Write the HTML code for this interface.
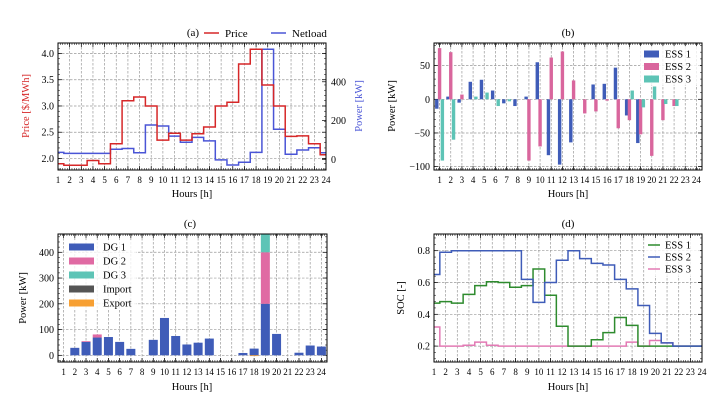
<!DOCTYPE html>
<html><head><meta charset="utf-8"><style>
html,body{margin:0;padding:0;background:#fff}
svg{display:block;font-family:"Liberation Serif","DejaVu Serif",serif}
</style></head><body>
<svg id="fig" width="724" height="400" viewBox="0 0 724 400" xmlns="http://www.w3.org/2000/svg">
<rect width="724" height="400" fill="#fff"/>
<!-- Panel a header -->
<text x="193" y="36" font-size="11" text-anchor="middle">(a)</text>
<line x1="204" y1="33" x2="219" y2="33" stroke="#d62728" stroke-width="1.5"/>
<text x="225" y="37" font-size="11">Price</text>
<line x1="271" y1="33" x2="286" y2="33" stroke="#4a55d6" stroke-width="1.5"/>
<text x="292" y="37" font-size="11">Netload</text>
<text x="568" y="36" font-size="11" text-anchor="middle">(b)</text>
<text x="190" y="227" font-size="11" text-anchor="middle">(c)</text>
<text x="568" y="227" font-size="11" text-anchor="middle">(d)</text>
<!-- axis titles -->
<text x="192" y="197" font-size="10.5" text-anchor="middle">Hours [h]</text>
<text x="568" y="197" font-size="10.5" text-anchor="middle">Hours [h]</text>
<text x="192" y="390" font-size="10.5" text-anchor="middle">Hours [h]</text>
<text x="568" y="390" font-size="10.5" text-anchor="middle">Hours [h]</text>
<text transform="translate(29,106) rotate(-90)" font-size="10.5" text-anchor="middle" fill="#d62728">Price [$/MWh]</text>
<text transform="translate(362,106) rotate(-90)" font-size="10.5" text-anchor="middle" fill="#4a55d6">Power [kW]</text>
<text transform="translate(395,106) rotate(-90)" font-size="10.5" text-anchor="middle">Power [kW]</text>
<text transform="translate(26,298) rotate(-90)" font-size="10.5" text-anchor="middle">Power [kW]</text>
<text transform="translate(404,298) rotate(-90)" font-size="10.5" text-anchor="middle">SOC [-]</text>
<g id="layer"></g>
</svg>
<script>
const hours = [1,2,3,4,5,6,7,8,9,10,11,12,13,14,15,16,17,18,19,20,21,22,23,24];
const price = [1.90,1.87,1.87,1.96,1.90,2.28,3.10,3.17,3.00,2.35,2.48,2.35,2.47,2.60,3.00,3.07,3.80,4.08,3.40,3.00,2.42,2.43,2.28,2.07];
const netload = [36,31,31,31,31,52,56,34,177,172,120,88,113,95,-3,-29,-15,36,568,155,26,48,60,34];
const ess1Power = [-14,4,-5,26,29,13,-6,-10,4,55,-83,-97,-64,0,22,23,47,-24,-65,0,0,0,0,0];
const ess2Power = [76,70,7,0,0,0,0,0,-91,-70,62,71,28,-21,-18,-2,-43,-31,-52,-84,-31,-10,0,0];
const ess3Power = [-91,-60,0,4,10,-10,-3,0,0,0,0,0,0,0,0,0,0,13,-12,19,-7,-10,0,0];
const dg1 = [0,29,52,69,71,52,25,0,60,145,75,42,49,65,0,0,9,26,200,83,0,10,38,34];
const dg2 = [0,0,3,12,0,0,0,0,0,0,0,0,0,0,0,0,0,0,200,0,0,0,0,0];
const dg3 = [0,0,0,0,0,0,0,0,0,0,0,0,0,0,0,0,0,0,75,0,0,0,0,0];
const gridImport = [0,0,0,0,0,0,0,0,0,0,0,0,0,0,0,0,0,0,0,0,0,0,0,0];
const gridExport = [0,0,0,0,0,0,0,0,0,0,0,0,0,0,0,0,0,-3,0,0,0,0,0,0];
const soc1 = [0.47,0.48,0.47,0.525,0.58,0.605,0.6,0.57,0.58,0.685,0.52,0.325,0.2,0.2,0.24,0.285,0.38,0.33,0.2,0.2,0.2,0.2,0.2,0.2];
const soc2 = [0.65,0.79,0.8,0.8,0.8,0.8,0.8,0.8,0.62,0.475,0.6,0.74,0.8,0.75,0.72,0.71,0.62,0.56,0.455,0.28,0.22,0.2,0.2,0.2];
const soc3 = [0.32,0.2,0.2,0.205,0.225,0.205,0.2,0.2,0.2,0.2,0.2,0.2,0.2,0.2,0.2,0.2,0.2,0.225,0.2,0.235,0.22,0.2,0.2,0.2];
const priceTicks = [2.0,2.5,3.0,3.5,4.0];
const netTicks = [0,200,400];
const essTicks = [-100,-50,0,50];
const dgTicks = [0,100,200,300,400];
const socTicks = [0.2,0.4,0.6,0.8];

const NS='http://www.w3.org/2000/svg';
const layer=document.getElementById('layer');
function mk(tag,attrs,parent){const e=document.createElementNS(NS,tag);for(const k in attrs)e.setAttribute(k,attrs[k]);(parent||layer).appendChild(e);return e;}
function scale(d0,d1,r0,r1){return v=>r0+(v-d0)*(r1-r0)/(d1-d0);}

function axes(id,box,xlim,ylim,yticks,yfmt,ymin,ylabelsLeft,ycolor){
  const sx=scale(xlim[0],xlim[1],box.x0,box.x1), sy=scale(ylim[0],ylim[1],box.y1,box.y0);
  const cp=mk('clipPath',{id:'clip-'+id});
  mk('rect',{x:box.x0,y:box.y0,width:box.x1-box.x0,height:box.y1-box.y0},cp);
  hours.forEach(h=>{const x=sx(h);
    const g=mk('line',{x1:x,x2:x,y1:box.y0,y2:box.y1,stroke:'#999','stroke-width':0.7,'stroke-dasharray':'2.5,1.5'});
    
    
    const t=mk('text',{x:x,y:box.y1+13,'font-size':9,'text-anchor':'middle'});
    t.textContent=h;
    
    
    mk('line',{x1:x,x2:x,y1:box.y1,y2:box.y1-4,stroke:'#000','stroke-width':0.7});
    mk('line',{x1:x,x2:x,y1:box.y0,y2:box.y0+4,stroke:'#000','stroke-width':0.7});
  });
  for(let m=xlim[0];m<=xlim[1];m+=0.2){const x=sx(m);
    mk('line',{x1:x,x2:x,y1:box.y1,y2:box.y1-2,stroke:'#000','stroke-width':0.5});
    mk('line',{x1:x,x2:x,y1:box.y0,y2:box.y0+2,stroke:'#000','stroke-width':0.5});}
  for(let m=ylim[0]-(ylim[0]%ymin);m<=ylim[1];m+=ymin){const y=sy(m);if(y<box.y0||y>box.y1)continue;
    mk('line',{x1:box.x0,x2:box.x0+2,y1:y,y2:y,stroke:'#000','stroke-width':0.5});
    mk('line',{x1:box.x1,x2:box.x1-2,y1:y,y2:y,stroke:'#000','stroke-width':0.5});}
  yticks.forEach(v=>{const y=sy(v);
    const g=mk('line',{x1:box.x0,x2:box.x1,y1:y,y2:y,stroke:'#999','stroke-width':0.7,'stroke-dasharray':'2.5,1.5'});
    
    
    mk('line',{x1:box.x0,x2:box.x0+4,y1:y,y2:y,stroke:'#000','stroke-width':0.7});
    mk('line',{x1:box.x1,x2:box.x1-4,y1:y,y2:y,stroke:'#000','stroke-width':0.7});
    if(ylabelsLeft){const t=mk('text',{x:box.x0-4,y:y+3.5,'font-size':10,'text-anchor':'end',fill:ycolor||'#000'});
      t.textContent=yfmt(v);
      
      }
  });
  return {sx,sy,box,clip:'url(#clip-'+id+')'};
}
function frame(box){const f=mk('rect',{x:box.x0,y:box.y0,width:box.x1-box.x0,height:box.y1-box.y0,fill:'none',stroke:'#000','stroke-width':1});
  
  }
function stepPath(vals,sx,sy){let d='';vals.forEach((v,i)=>{const y=sy(v);d+=(i?'L':'M')+sx(hours[i]-0.5)+','+y+'L'+sx(hours[i]+0.5)+','+y;});return d;}

// Panel a
const A=axes('a',{x0:58,x1:326,y0:43,y1:170},[1,24],[1.78,4.2],priceTicks,v=>v.toFixed(1),0.1,true,'#000');
const syN=scale(-55,600,170,43);
netTicks.forEach(v=>{const y=syN(v);
  mk('line',{x1:326,x2:322,y1:y,y2:y,stroke:'#000','stroke-width':0.7});
  const t=mk('text',{x:331,y:y+3.5,'font-size':10});
  t.textContent=v;
  
  });
const pNet=mk('path',{d:stepPath(netload,A.sx,syN),fill:'none',stroke:'#4a55d6','stroke-width':1.5,'clip-path':A.clip});


const pPrice=mk('path',{d:stepPath(price,A.sx,A.sy),fill:'none',stroke:'#d62728','stroke-width':1.5,'clip-path':A.clip});


frame(A.box);

// Panel b
const B=axes('b',{x0:434,x1:702,y0:43,y1:170},[0.5,24.5],[-105,83.6],essTicks,v=>v<0?'\u2212'+(-v):''+v,10,true);
const essSeries=[[ess1Power,'#3f5cb8',-0.25,'bar-ess1'],[ess2Power,'#d9669d',0,'bar-ess2'],[ess3Power,'#5ec4b6',0.25,'bar-ess3']];
essSeries.forEach(([vals,col,off,name])=>{vals.forEach((v,i)=>{if(!v)return;
  const x=B.sx(hours[i]+off)-1.7,y0=B.sy(0),y=B.sy(v);
  const r=mk('rect',{x:x,y:Math.min(y0,y),width:3.4,height:Math.abs(y-y0),fill:col});
  
  });});
frame(B.box);

// Panel c
const C=axes('c',{x0:58,x1:327,y0:234,y1:362},[0.5,24.5],[-26,471],dgTicks,v=>''+v,20,true);
const stack=[[dg1,'#3f5cb8','bar-dg1'],[dg2,'#e06aa3','bar-dg2'],[dg3,'#5ec4b6','bar-dg3'],[gridImport,'#555555','bar-import']];
const base=hours.map(()=>0);
stack.forEach(([vals,col,name])=>{vals.forEach((v,i)=>{if(!v)return;
  const y0=C.sy(base[i]),y1=C.sy(base[i]+v);
  const r=mk('rect',{x:C.sx(hours[i])-4.5,y:y1,width:9,height:y0-y1,fill:col,'clip-path':C.clip});
  
  
  base[i]+=v;});});
gridExport.forEach((v,i)=>{if(!v)return;
  const r=mk('rect',{x:C.sx(hours[i])-4.5,y:C.sy(0),width:9,height:C.sy(v)-C.sy(0),fill:'#f7a033'});
  
  });
frame(C.box);

// Panel d
const D=axes('d',{x0:434,x1:702,y0:234,y1:362},[1,24],[0.1,0.905],socTicks,v=>v.toFixed(1),0.04,true);
[[soc3,'#e27ab4','soc-ess3-line'],[soc1,'#2e8b2e','soc-ess1-line'],[soc2,'#3f5cb8','soc-ess2-line']].forEach(([vals,col,name])=>{
  const p=mk('path',{d:stepPath(vals,D.sx,D.sy),fill:'none',stroke:col,'stroke-width':1.5,'clip-path':D.clip});
  
  });
frame(D.box);

// Legends
const lb=mk('rect',{x:640,y:46,width:60,height:39,fill:'#fff','fill-opacity':0.8});


[['ESS 1','#3f5cb8'],['ESS 2','#d9669d'],['ESS 3','#5ec4b6']].forEach(([lab,col],i)=>{const y=54+i*12.5;
  const r=mk('rect',{x:644,y:y-3.5,width:15,height:7,fill:col});
  
  
  const t=mk('text',{x:665,y:y+3.5,'font-size':10.5});
  t.textContent=lab;
  
  });
const lc=mk('rect',{x:64,y:240,width:72,height:70,fill:'#fff','fill-opacity':0.8});


[['DG 1','#3f5cb8'],['DG 2','#e06aa3'],['DG 3','#5ec4b6'],['Import','#555555'],['Export','#f7a033']].forEach(([lab,col],i)=>{const y=247+i*14;
  const r=mk('rect',{x:69,y:y-3.5,width:25,height:7,fill:col});
  
  
  const t=mk('text',{x:103,y:y+3.5,'font-size':10.5});
  t.textContent=lab;
  
  });
const ld=mk('rect',{x:645,y:238,width:55,height:38,fill:'#fff','fill-opacity':0.8});


[['ESS 1','#2e8b2e'],['ESS 2','#3f5cb8'],['ESS 3','#e27ab4']].forEach(([lab,col],i)=>{const y=245+i*12;
  const l=mk('line',{x1:648,x2:660,y1:y,y2:y,stroke:col,'stroke-width':1.5});
  
  
  const t=mk('text',{x:665,y:y+3.5,'font-size':10.5});
  t.textContent=lab;
  
  });
</script>
</body></html>
